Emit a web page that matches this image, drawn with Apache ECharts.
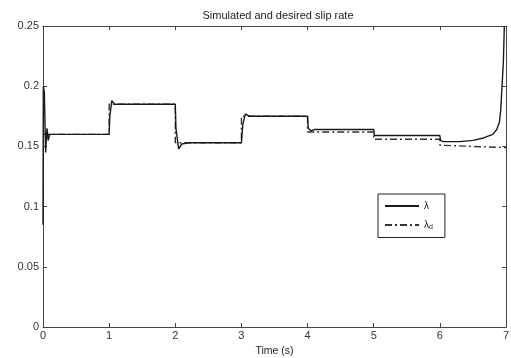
<!DOCTYPE html>
<html><head><meta charset="utf-8">
<script src="https://cdn.jsdelivr.net/npm/echarts@6/dist/echarts.min.js"></script>
<style>html,body{margin:0;padding:0;background:#fff}#c{width:511px;height:358px}</style>
</head><body><div id="c"></div>
<script>
var titleText = 'Simulated and desired slip rate';
var xName = 'Time (s)';
var yTicks = [0, 0.05, 0.1, 0.15, 0.2, 0.25];
var xTicks = [0, 1, 2, 3, 4, 5, 6, 7];
// simulated slip rate (lambda)
var lambdaT = [0, 0.005, 0.02, 0.04, 0.06, 0.08, 0.1, 0.15, 1.0, 1.01, 1.04, 1.08, 1.15, 2.0, 2.01, 2.05, 2.1, 2.2, 3.0, 3.02, 3.06, 3.12, 3.2, 4.0, 4.01, 4.05, 4.1, 5.0, 5.01, 5.05, 6.0, 6.01, 6.05, 6.3, 6.5, 6.66, 6.8, 6.86, 6.9, 6.92, 6.94, 6.96, 6.975];
var lambdaV = [0.085, 0.2, 0.195, 0.145, 0.165, 0.155, 0.16, 0.16, 0.16, 0.175, 0.188, 0.185, 0.185, 0.185, 0.165, 0.148, 0.152, 0.153, 0.153, 0.168, 0.177, 0.175, 0.175, 0.175, 0.165, 0.163, 0.164, 0.164, 0.159, 0.159, 0.159, 0.155, 0.154, 0.154, 0.155, 0.157, 0.16, 0.164, 0.17, 0.18, 0.2, 0.22, 0.25];
// desired slip rate (lambda_d)
var desT = [0, 1, 1, 2, 2, 3, 3, 4, 4, 5, 5, 6, 6, 7];
var desV = [0.16, 0.16, 0.185, 0.185, 0.153, 0.153, 0.175, 0.175, 0.162, 0.162, 0.156, 0.156, 0.151, 0.149];

function pairs(t, v){ return t.map(function(x,i){return [x, v[i]];}); }
var font = 'Liberation Sans, Arial, sans-serif';
var axCol = '#444';
var tick = { show: true, inside: true, length: 4, lineStyle: { color: axCol, width: 1 } };
var chart = echarts.init(document.getElementById('c'));
chart.setOption({
  backgroundColor: '#fff',
  animation: false,
  title: { text: titleText, left: 273, textAlign: 'center', top: 5,
    textStyle: { fontFamily: font, fontSize: 11, fontWeight: 'normal', color: '#222' } },
  grid: { left: 43, right: 5, top: 26, bottom: 31, containLabel: false, outerBoundsMode: 'none' },
  legend: {
    orient: 'vertical', left: 378, top: 194,
    padding: [7, 12, 7, 6], itemWidth: 34, itemHeight: 10, itemGap: 9,
    borderColor: '#222', borderWidth: 1, backgroundColor: '#fff',
    itemStyle: { opacity: 0, borderWidth: 0 },
    textStyle: { fontFamily: font, fontSize: 10, color: '#222',
      rich: { a: { fontSize: 10, fontFamily: font, color: '#222' }, b: { fontSize: 7, fontFamily: font, color: '#222', verticalAlign: 'bottom', padding: [4,0,0,0] } } },
    data: ['λ', 'λd'],
    formatter: function(n){ return n === 'λd' ? '{a|λ}{b|d}' : '{a|λ}'; }
  },
  xAxis: [
    { type: 'value', min: 0, max: 7, interval: 1, position: 'bottom',
      name: xName, nameLocation: 'middle', nameGap: 19,
      nameTextStyle: { fontFamily: font, fontSize: 10.5, color: '#222' },
      axisLine: { show: true, onZero: false, lineStyle: { color: axCol, width: 1 } },
      axisTick: tick,
      axisLabel: { fontFamily: font, fontSize: 11, color: '#333', margin: 3 },
      splitLine: { show: false } },
    { type: 'value', min: 0, max: 7, interval: 1, position: 'top',
      axisLine: { show: true, onZero: false, lineStyle: { color: axCol, width: 1 } },
      axisTick: tick,
      axisLabel: { show: false }, splitLine: { show: false } }
  ],
  yAxis: [
    { type: 'value', min: 0, max: 0.25, interval: 0.05, position: 'left',
      axisLine: { show: true, onZero: false, lineStyle: { color: axCol, width: 1 } },
      axisTick: tick,
      axisLabel: { fontFamily: font, fontSize: 11, color: '#333', margin: 4,
        formatter: function(v){ return String(Math.round(v*100)/100); } },
      splitLine: { show: false } },
    { type: 'value', min: 0, max: 0.25, interval: 0.05, position: 'right',
      axisLine: { show: true, onZero: false, lineStyle: { color: axCol, width: 1 } },
      axisTick: tick,
      axisLabel: { show: false }, splitLine: { show: false } }
  ],
  series: [
    { name: 'λ', type: 'line', data: pairs(lambdaT, lambdaV), symbol: 'none',
      lineStyle: { color: '#1a1a1a', width: 1.4 }, itemStyle: { color: '#1a1a1a' }, z: 3 },
    { name: 'λd', type: 'line', data: pairs(desT, desV), symbol: 'none',
      lineStyle: { color: '#333', width: 1.4, type: [7, 3, 2, 3] }, itemStyle: { color: '#333' }, z: 2 }
  ]
});
</script></body></html>
